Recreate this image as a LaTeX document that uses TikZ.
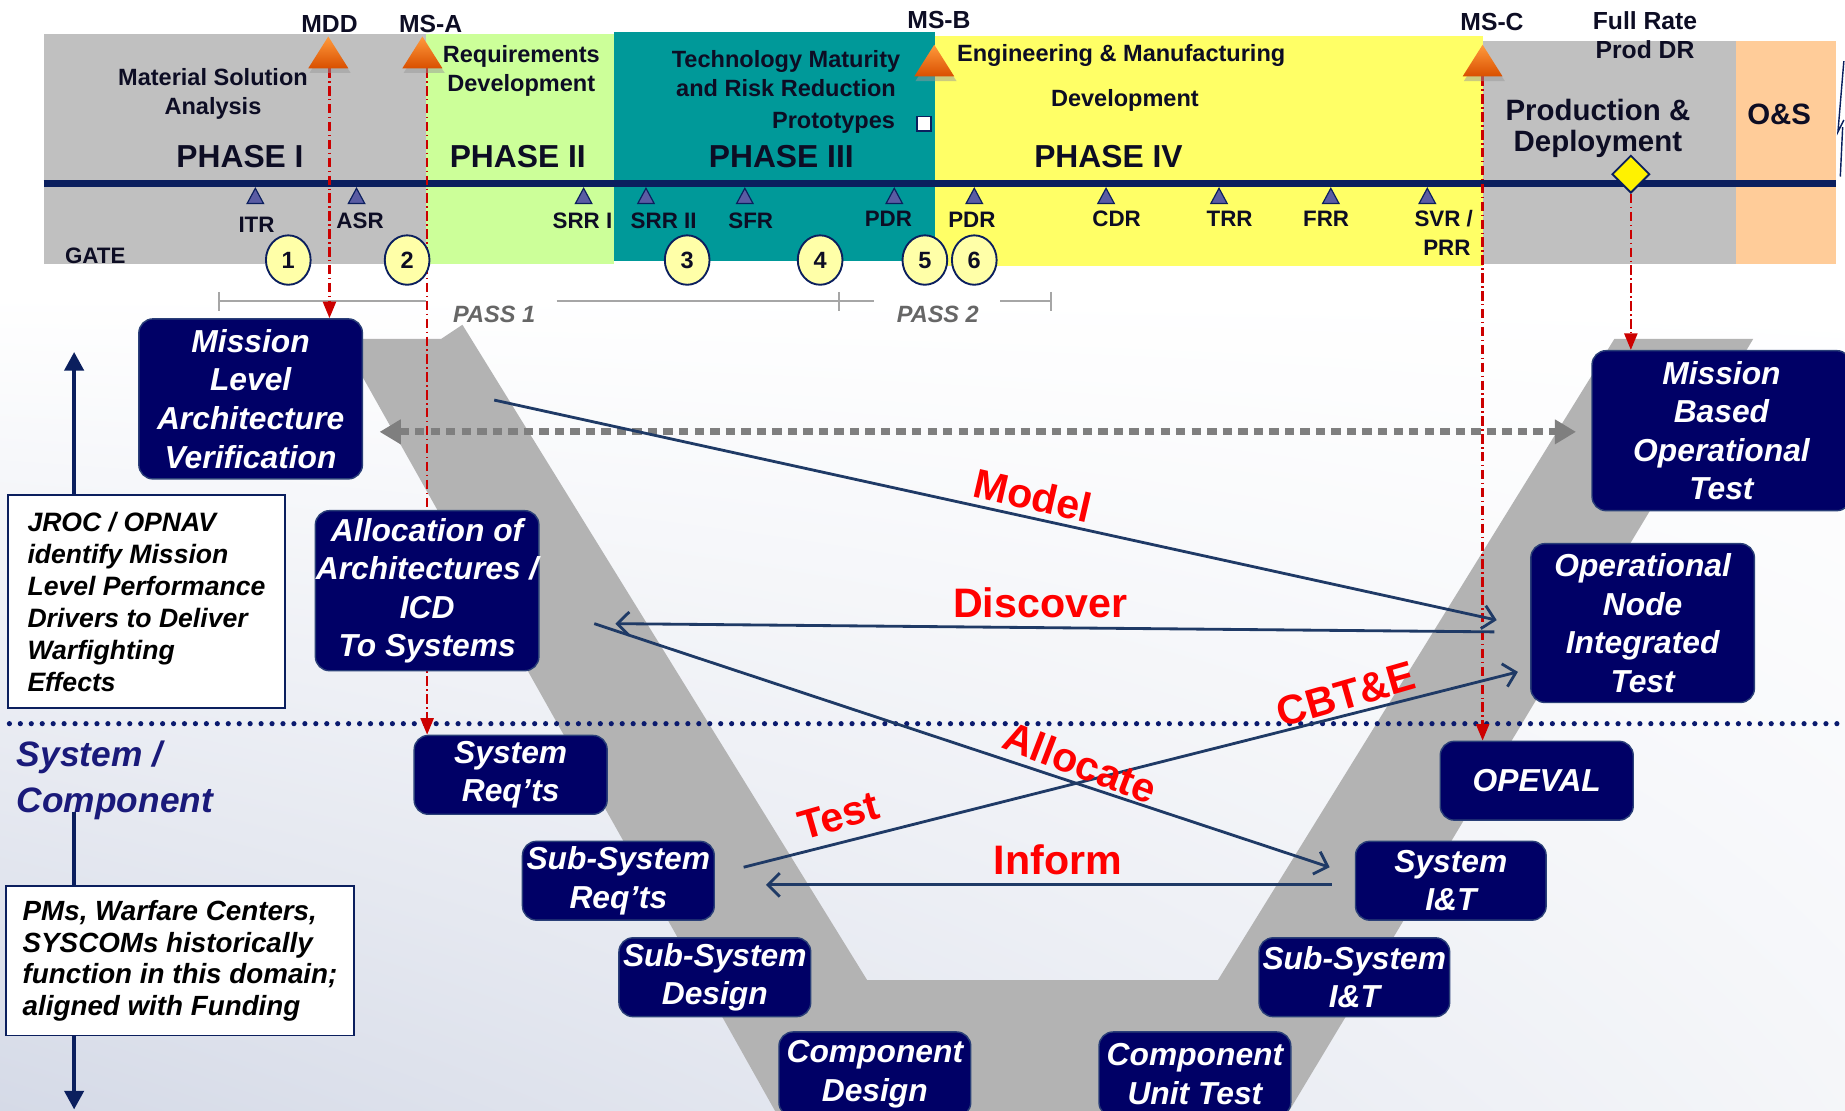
\documentclass[tikz,border=0pt]{standalone}
\usepackage{fontspec}
\setmainfont{Liberation Sans}
\usetikzlibrary{arrows.meta,shapes.geometric,shadings}
\definecolor{txt}{HTML}{0D0D24}
\definecolor{tline}{HTML}{0B1F5E}
\definecolor{bgray}{HTML}{C0C0C0}
\definecolor{bgreen}{HTML}{CCFF99}
\definecolor{bteal}{HTML}{009999}
\definecolor{byellow}{HTML}{FFFF66}
\definecolor{borange}{HTML}{FFCC99}
\definecolor{vgray}{HTML}{B3B3B3}
\definecolor{msred}{HTML}{CC0000}
\definecolor{labred}{HTML}{FF0000}
\definecolor{connc}{HTML}{1F3A66}
\definecolor{revfill}{HTML}{5A5CA3}
\definecolor{gatefill}{HTML}{FFFFA8}
\definecolor{boxnavy}{HTML}{000066}
\definecolor{boxedge}{HTML}{2A3F78}
\definecolor{passc}{HTML}{A6A6A6}
\definecolor{passtxt}{HTML}{666666}
\definecolor{dashgray}{HTML}{7F7F7F}
\definecolor{otop}{HTML}{FF9A3C}
\definecolor{obot}{HTML}{D94F00}
\definecolor{bgblue}{HTML}{D5DAE7}
\definecolor{sysblue}{HTML}{1A1A7A}
\definecolor{dotnavy}{HTML}{0A1A6E}
\pgfdeclarelayer{bg}
\pgfdeclarelayer{mid}
\pgfsetlayers{bg,mid,main}
\begin{document}
\begin{tikzpicture}[x=0.5pt,y=-0.5pt,
  band/.style={font=\bfseries\fontsize{10}{12.2}\selectfont,text=txt,align=center,inner sep=0pt},
  phase/.style={font=\bfseries\fontsize{13.5}{16}\selectfont,text=txt,inner sep=0pt},
  mslab/.style={font=\bfseries\fontsize{10.5}{12.5}\selectfont,text=txt,align=center,inner sep=0pt},
  revlab/.style={font=\bfseries\fontsize{9.5}{12}\selectfont,text=txt,align=center,inner sep=0pt},
  revtri/.style={fill=revfill,draw=tline,line width=0.5pt},
  gate/.style={ellipse,draw=tline,line width=0.8pt,fill=gatefill,minimum width=19pt,minimum height=21pt,inner sep=0pt,font=\bfseries\fontsize{10}{12}\selectfont,text=txt},
  vbox/.style={draw=boxedge,line width=0.6pt,fill=boxnavy,rounded corners=6pt,text=white,font=\bfseries\itshape\fontsize{13.5}{16.4}\selectfont,align=center,inner sep=0pt},
  note/.style={draw=tline,line width=0.8pt,fill=white,text=black,align=left,inner sep=0pt},
  redlab/.style={text=labred,font=\bfseries\fontsize{17.5}{20}\selectfont,inner sep=0pt},
  conn/.style={draw=connc,line width=1.2pt,-{Straight Barb[length=5pt,width=10pt]}},
  msline/.style={draw=msred,line width=1pt,dash pattern=on 4pt off 1.5pt on 0.6pt off 1.5pt,-{Triangle[length=7pt,width=5.5pt]}},
  passline/.style={draw=passc,line width=0.9pt},
  passlab/.style={text=passtxt,font=\bfseries\itshape\fontsize{10}{12}\selectfont,inner sep=0pt},
  mstri/.pic={
    \fill[black!40,opacity=0.5] (-16,4) -- (1,-23) -- (19,4) -- cycle;
    \shade[top color=otop,bottom color=obot] (-17,0) -- (0,-27) -- (17,0) -- cycle;
  }
]
\useasboundingbox (0,0) rectangle (1568,944);
\clip (0,0) rectangle (1568,944);

% ---------- main layer: boxes and texts ----------
\node[vbox,minimum width=95pt,minimum height=68pt] (mlav) at (213,339) {Mission\\Level\\Architecture\\Verification};
\node[vbox,minimum width=95pt,minimum height=68pt] (alloc) at (363,502) {Allocation of\\Architectures /\\ICD\\To Systems};
\node[vbox,minimum width=82pt,minimum height=33.5pt] (sysreq) at (434,658.5) {System\\Req’ts};
\node[vbox,minimum width=81.5pt,minimum height=33.5pt] (ssreq) at (525.5,748.5) {Sub-System\\Req’ts};
\node[vbox,minimum width=81.5pt,minimum height=33.5pt] (ssdes) at (607.5,830.5) {Sub-System\\Design};
\node[vbox,minimum width=81.5pt,minimum height=36pt] (compdes) at (743.5,913) {Component\\Design};
\node[vbox,minimum width=81.5pt,minimum height=36pt] (compunit) at (1015.5,913) {Component\\Unit Test};
\node[vbox,minimum width=81pt,minimum height=33.5pt] (ssit) at (1151,830.5) {Sub-System\\I\&T};
\node[vbox,minimum width=81pt,minimum height=33.5pt] (sysit) at (1233,748.5) {System\\I\&T};
\node[vbox,minimum width=82pt,minimum height=33.5pt] (opeval) at (1306,663.5) {OPEVAL};
\node[vbox,minimum width=95pt,minimum height=67.5pt] (onit) at (1396,529.5) {Operational\\Node\\Integrated\\Test};
\node[vbox,minimum width=110pt,minimum height=68pt] (mbot) at (1463,366) {Mission\\Based\\Operational\\Test};

\node[note,minimum width=117.5pt,minimum height=90.5pt,font=\bfseries\itshape\fontsize{11.3}{13.6}\selectfont] (jroc) at (124.5,511.5)
  {JROC / OPNAV\\identify Mission\\Level Performance\\Drivers to Deliver\\Warfighting\\Effects};
\node[note,minimum width=148pt,minimum height=63.5pt,font=\bfseries\itshape\fontsize{11.8}{13.5}\selectfont] (pms) at (153,816.5)
  {PMs, Warfare Centers,\\SYSCOMs historically\\function in this domain;\\aligned with Funding};
\node[text=sysblue,font=\bfseries\itshape\fontsize{15}{19.5}\selectfont,align=left,inner sep=0pt,anchor=west] (syscomp) at (14,663) {System /\\Component};

% gates
\node[gate] (g1) at (245,221) {1};
\node[gate] (g2) at (346,221) {2};
\node[gate] (g3) at (584,221) {3};
\node[gate] (g4) at (697,221) {4};
\node[gate] (g5) at (786,221) {5};
\node[gate] (g6) at (828,221) {6};

% red labels
\node[redlab,rotate=-13] (lmodel) at (878,421) {Model};
\node[redlab] (ldisc) at (884,512) {Discover};
\node[redlab,rotate=16] (lcbte) at (1144,590) {CBT\&E};
\node[redlab,rotate=-21] (lalloc) at (918,648) {Allocate};
\node[redlab,rotate=16] (ltest) at (713,693) {Test};
\node[redlab] (linform) at (899,731) {Inform};

% ---------- background layer ----------
\begin{pgfonlayer}{bg}
\shade[upper left=white,upper right=white,lower left=bgblue,lower right=bgblue!25] (0,250) rectangle (1568,944);
% phase bands
\fill[bgray] (37,29) rectangle (362,224);
\fill[bgreen] (362,29) rectangle (522,224);
\fill[bteal] (522,27) rectangle (795,222);
\fill[byellow] (795,31) rectangle (1260,226);
\fill[bgray] (1260,35) rectangle (1475,224);
\fill[borange] (1475,35) rectangle (1560,224);
\draw[tline,line width=3pt] (37,156) -- (1560,156);
% review triangles
\foreach \x in {217,303,496,549,633,760,828,940,1036,1131,1213}
  \draw[revtri] (\x-7,173) -- (\x,160) -- (\x+7,173) -- cycle;
% V shape
\fill[vgray] (290,288) -- (375,288) -- (393,276) -- (737,833) -- (1035,833) -- (1372,288) -- (1490,288) -- (1092,950) -- (662,950) -- cycle;
% pass bars
\draw[passline] (186,256) -- (362,256);
\draw[passline] (186,248) -- (186,264);
\draw[passline] (473,256) -- (743,256);
\draw[passline] (713,248) -- (713,264);
\draw[passline] (850,256) -- (893,256);
\draw[passline] (893,248) -- (893,264);
% dotted divider
\draw[dotnavy,line width=2.2pt,line cap=round,dash pattern=on 0pt off 4.65pt] (8,615) -- (1568,615);
% callout fragment at right edge
\draw[tline,line width=0.6pt] (1567,52) -- (1562,112) -- (1567,102);
\draw[tline,line width=0.6pt] (1566,108) -- (1564,150);
\end{pgfonlayer}

% milestone triangles and top texts
\pic at (279,58) {mstri};
\pic at (359,58) {mstri};
\pic at (794,65) {mstri};
\pic at (1260,65) {mstri};
\coordinate (mddb) at (280,58);
\coordinate (msab) at (363,58);
\coordinate (mscb) at (1260,65);

\node[mslab] (tmdd) at (280,20) {MDD};
\node[mslab] (tmsa) at (366,20) {MS-A};
\node[mslab] (tmsb) at (798,17) {MS-B};
\node[mslab] (tmsc) at (1268,19) {MS-C};
\node[mslab] (tfrp) at (1398,30) {Full Rate\\Prod DR};

\node[band] (tmsa2) at (181,80) {Material Solution\\Analysis};
\node[band] (treq) at (443,60) {Requirements\\Development};
\node[band] (ttech) at (668,62.5) {Technology Maturity\\and Risk Reduction};
\node[band,anchor=east] (tproto) at (761,104) {Prototypes};
\node[draw=tline,fill=white,minimum size=6pt,inner sep=0pt,line width=0.8pt] (proto) at (785,105) {};
\node[band,anchor=west] (temd) at (813,47) {Engineering \& Manufacturing};
\node[band] (tdev) at (956,85) {Development};
\node[band,font=\bfseries\fontsize{12.5}{13}\selectfont] (tpd) at (1358,109) {Production \&\\Deployment};
\node[band,font=\bfseries\fontsize{12.5}{13}\selectfont] (tos) at (1512,97) {O\&S};

\node[phase] (p1) at (204,133) {PHASE I};
\node[phase] (p2) at (440,133) {PHASE II};
\node[phase] (p3) at (664,133) {PHASE III};
\node[phase] (p4) at (942,133) {PHASE IV};

\node[diamond,draw=tline,fill=yellow,minimum width=16pt,minimum height=16pt,inner sep=0pt,line width=0.8pt] (frp) at (1386,148) {};

\node[revlab] (r1) at (218,191) {ITR};
\node[revlab] (r2) at (306,188) {ASR};
\node[revlab] (r3) at (495,188) {SRR I};
\node[revlab] (r4) at (564,188) {SRR II};
\node[revlab] (r5) at (638,188) {SFR};
\node[revlab] (r6) at (755,186) {PDR};
\node[revlab] (r7) at (826,187) {PDR};
\node[revlab] (r8) at (949,186) {CDR};
\node[revlab] (r9) at (1045,186) {TRR};
\node[revlab] (r10) at (1127,186) {FRR};
\node[revlab] (r11) at (1227,198) {SVR /\\\ PRR};
\node[revlab] (tgate) at (81,217) {GATE};

\node[passlab] (pass1) at (420,267) {PASS 1};
\node[passlab] (pass2) at (797,267) {PASS 2};

% ---------- middle layer: connectors ----------
\begin{pgfonlayer}{mid}
\draw[msline] (mddb) -- (mddb |- mlav.north);
\draw[msline] (msab) -- (msab |- sysreq.north);
\draw[msline] (mscb) -- (mscb |- opeval.north);
\draw[msline] (frp.south) -- (frp.south |- mbot.north);

\coordinate (ya) at (0,367);
\draw[dashgray,line width=3pt,dash pattern=on 4pt off 2.6pt,shorten <=7pt,shorten >=6.5pt,
  {Triangle[length=9pt,width=10pt]}-{Triangle[length=9pt,width=10pt]}] (mlav.east |- ya) -- (mbot.west |- ya);

\coordinate (mS) at (420,340); \coordinate (mE) at (1272,527);
\coordinate (dS) at (1270,537); \coordinate (dE) at (523,530);
\coordinate (aS) at (505,530); \coordinate (aE) at (1130,737);
\coordinate (tS) at (632,737); \coordinate (tE) at (1290,571);
\coordinate (iS) at (1132,752); \coordinate (iE) at (651,752);
\draw[conn] (mS) -- (mE);
\draw[conn] (dS) -- (dE);
\draw[conn] (aS) -- (aE);
\draw[conn] (tS) -- (tE);
\draw[conn] (iS) -- (iE);

\coordinate (uptip) at (63,299);
\draw[tline,line width=2pt,-{Triangle[length=8pt,width=8pt]}] (jroc.north -| uptip) -- (uptip);
\coordinate (comptop) at (63,690);
\draw[tline,line width=2pt] (comptop) -- (pms.north -| comptop);
\coordinate (downtip) at (63,943);
\draw[tline,line width=2pt,-{Triangle[length=8pt,width=8pt]}] (pms.south -| downtip) -- (downtip);
\end{pgfonlayer}
\end{tikzpicture}
\end{document}
